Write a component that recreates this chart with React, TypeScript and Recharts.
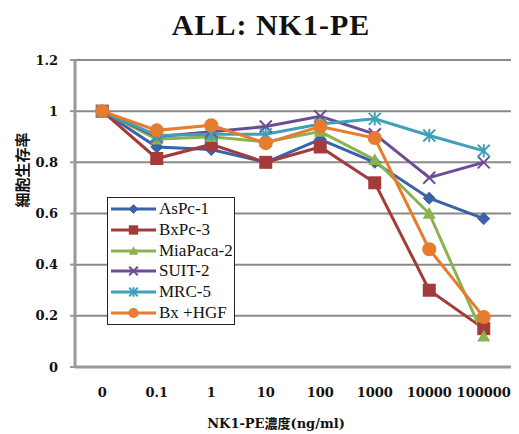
import React from 'react';
import { LineChart, Line, XAxis, YAxis, CartesianGrid, Legend } from 'recharts';

const categories = ['0', '0.1', '1', '10', '100', '1000', '10000', '100000'];
const asPc1 = [1.0, 0.86, 0.85, 0.8, 0.89, 0.8, 0.66, 0.58];
const bxPc3 = [1.0, 0.815, 0.87, 0.8, 0.86, 0.72, 0.3, 0.15];
const miaPaca2 = [1.0, 0.89, 0.9, 0.88, 0.92, 0.81, 0.6, 0.12];
const suit2 = [1.0, 0.9, 0.92, 0.94, 0.98, 0.91, 0.74, 0.8];
const mrc5 = [1.0, 0.905, 0.91, 0.91, 0.95, 0.97, 0.905, 0.845];
const bxHgf = [1.0, 0.925, 0.945, 0.875, 0.94, 0.895, 0.46, 0.195];
const yTicks = [0, 0.2, 0.4, 0.6, 0.8, 1, 1.2];

const series = [
  { key: 'asPc1', name: 'AsPc-1', color: '#3A62A8', marker: 'diamond', values: asPc1 },
  { key: 'bxPc3', name: 'BxPc-3', color: '#A33B3B', marker: 'square', values: bxPc3 },
  { key: 'miaPaca2', name: 'MiaPaca-2', color: '#8AB34E', marker: 'triangle', values: miaPaca2 },
  { key: 'suit2', name: 'SUIT-2', color: '#6C4C95', marker: 'x', values: suit2 },
  { key: 'mrc5', name: 'MRC-5', color: '#3FA0B8', marker: 'asterisk', values: mrc5 },
  { key: 'bxHgf', name: 'Bx +HGF', color: '#E77B2E', marker: 'circle', values: bxHgf },
];

const data = categories.map((c, i) => {
  const row: any = { pos: i + 0.5, label: c };
  series.forEach((s) => {
    row[s.key] = s.values[i];
  });
  return row;
});
const labelTicks = categories.map((_, i) => i + 0.5);
const boundaryTicks = categories.map((_, i) => i).concat([categories.length]);

const serif = '"DejaVu Serif", "Noto Sans CJK JP", serif';

function Marker({ type, cx, cy, color, s }: any) {
  if (cx == null || cy == null) return null;
  switch (type) {
    case 'diamond':
      return <polygon points={`${cx},${cy - s} ${cx + s},${cy} ${cx},${cy + s} ${cx - s},${cy}`} fill={color} stroke={color} />;
    case 'square':
      return <rect x={cx - s} y={cy - s} width={2 * s} height={2 * s} fill={color} />;
    case 'triangle':
      return <polygon points={`${cx},${cy - s} ${cx + s},${cy + s * 0.8} ${cx - s},${cy + s * 0.8}`} fill={color} />;
    case 'x':
      return (
        <g stroke={color} strokeWidth={2}>
          <line x1={cx - s} y1={cy - s} x2={cx + s} y2={cy + s} />
          <line x1={cx - s} y1={cy + s} x2={cx + s} y2={cy - s} />
        </g>
      );
    case 'asterisk':
      return (
        <g stroke={color} strokeWidth={2}>
          <line x1={cx - s} y1={cy - s} x2={cx + s} y2={cy + s} />
          <line x1={cx - s} y1={cy + s} x2={cx + s} y2={cy - s} />
          <line x1={cx} y1={cy - s * 1.1} x2={cx} y2={cy + s * 1.1} />
        </g>
      );
    default:
      return <circle cx={cx} cy={cy} r={s} fill={color} />;
  }
}

const markerSize: any = { diamond: 6, square: 6.5, triangle: 6.5, x: 6, asterisk: 6, circle: 7 };

function LegendBox() {
  return (
    <div
      style={{
        border: '1.5px solid #222',
        background: '#fff',
        width: 128,
        padding: '1px 0',
        boxSizing: 'border-box',
      }}
    >
      {series.map((s) => (
        <div key={s.key} style={{ display: 'flex', alignItems: 'center', height: 20.7 }}>
          <svg width={50} height={20} style={{ display: 'block' }}>
            <line x1={3} y1={10} x2={48} y2={10} stroke={s.color} strokeWidth={3} />
            <Marker type={s.marker} cx={25.5} cy={10} color={s.color} s={markerSize[s.marker] * 0.72} />
          </svg>
          <span
            style={{
              fontFamily: '"Liberation Serif", "Times New Roman", serif',
              fontSize: 17,
              color: '#111',
              marginLeft: 1,
              lineHeight: '20px',
            }}
          >
            {s.name}
          </span>
        </div>
      ))}
    </div>
  );
}

export default function App() {
  return (
    <div style={{ position: 'relative', width: 511, height: 426 }}>
      <div
        style={{
          position: 'absolute',
          left: 113,
          top: 0,
          width: 300,
          textAlign: 'center',
          fontFamily: '"Liberation Serif", "Times New Roman", serif',
          fontWeight: 'bold',
          fontSize: 30,
          lineHeight: '34px',
          letterSpacing: 1,
          color: '#111',
          zIndex: 2,
        }}
      >
        ALL: NK1-PE
      </div>
      <LineChart width={511} height={426} data={data} margin={{ top: 52, right: 8, bottom: 0, left: 0 }}>
        <CartesianGrid vertical={false} stroke="#8a8a8a" strokeWidth={2} />
        <XAxis
          xAxisId="marks"
          type="number"
          dataKey="pos"
          domain={[0, categories.length]}
          ticks={boundaryTicks}
          height={0}
          axisLine={false}
          tick={() => <g />}
          tickLine={{ stroke: '#999', strokeWidth: 2 }}
          tickSize={5}
          allowDataOverflow
        />
        <XAxis
          xAxisId={0}
          type="number"
          dataKey="pos"
          domain={[0, categories.length]}
          ticks={labelTicks}
          tickFormatter={(v: number) => categories[Math.round(v - 0.5)]}
          height={67}
          tickLine={false}
          tickSize={6}
          tickMargin={15}
          axisLine={{ stroke: '#999', strokeWidth: 3 }}
          tick={{ fontFamily: serif, fontSize: 13, fontWeight: 'bold', fill: '#111' }}
          label={{
            content: (p: any) => {
              const vb = p.viewBox;
              return (
                <text
                  x={vb.x + vb.width / 2 - 17}
                  y={vb.y + 61}
                  textAnchor="middle"
                  fontFamily={serif}
                  fontSize={13}
                  fontWeight="bold"
                  fill="#111"
                >
                  NK1-PE濃度(ng/ml)
                </text>
              );
            },
          }}
        />
        <YAxis
          domain={[0, 1.2]}
          ticks={yTicks}
          width={67}
          axisLine={{ stroke: '#999', strokeWidth: 3 }}
          tickLine={{ stroke: '#999', strokeWidth: 2 }}
          tickSize={5}
          tickMargin={12}
          tickFormatter={(v: number) => String(Math.round(v * 10) / 10)}
          tick={{ fontFamily: serif, fontSize: 13, fontWeight: 'bold', fill: '#111' }}
          label={{
            content: (p: any) => {
              const vb = p.viewBox;
              const x = vb.x + 13;
              const y = vb.y + 110;
              return (
                <text
                  x={x}
                  y={y}
                  transform={`rotate(-90, ${x}, ${y})`}
                  textAnchor="middle"
                  dominantBaseline="central"
                  fontFamily='"Noto Sans CJK JP", sans-serif'
                  fontSize={15}
                  fontWeight="bold"
                  fill="#111"
                >
                  細胞生存率
                </text>
              );
            },
          }}
        />
        <Legend
          layout="vertical"
          align="center"
          verticalAlign="middle"
          wrapperStyle={{ left: 99, top: 189, width: 'auto', height: 'auto' }}
          content={() => <LegendBox />}
        />
        {series.map((s) => (
          <Line
            key={s.key}
            dataKey={s.key}
            name={s.name}
            stroke={s.color}
            strokeWidth={3}
            isAnimationActive={false}
            dot={(p: any) => (
              <Marker key={`${s.key}-${p.index}`} type={s.marker} cx={p.cx} cy={p.cy} color={s.color} s={markerSize[s.marker]} />
            )}
            activeDot={false}
          />
        ))}
      </LineChart>
    </div>
  );
}
